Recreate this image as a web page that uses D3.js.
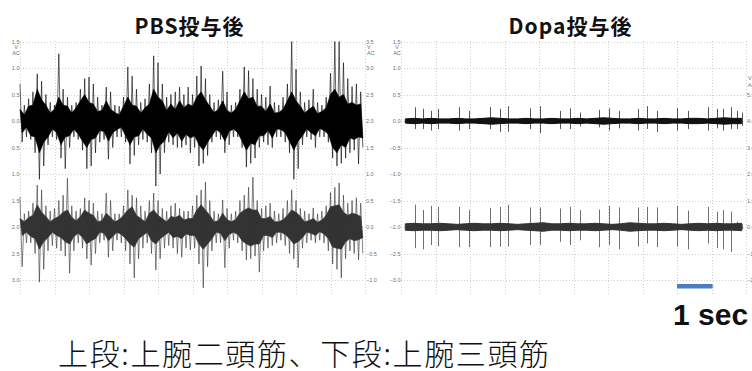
<!DOCTYPE html>
<html>
<head>
<meta charset="utf-8">
<script src="https://cdn.jsdelivr.net/npm/d3@7/dist/d3.min.js"></script>
<style>
  body { margin: 0; background: #fff; }
  svg { display: block; }
</style>
</head>
<body>
<svg id="chart" width="752" height="371"></svg>
<script>
// EMG traces, 10 s each, one value per 0.125 s bin (V).
// hi/lo = peak excursion above/below baseline, core = half-width of the dense band
var pbsBicepsHi = [0.7,0.3,0.42,0.55,0.89,0.75,0.5,0.35,0.3,1.27,
                   0.6,0.45,0.3,0.35,0.6,0.8,0.83,0.7,0.45,0.3,
                   0.64,0.55,0.3,0.28,0.45,1.02,0.85,0.6,0.35,0.42,
                   0.7,1.23,1.1,0.7,0.45,0.5,0.55,0.64,0.5,0.64,
                   0.5,0.85,1.04,0.8,0.5,0.35,0.4,0.94,0.55,0.3,
                   0.35,0.6,1.02,0.95,0.8,0.6,0.5,0.45,0.66,0.35,
                   0.3,0.45,0.7,1.5,0.98,0.55,0.35,0.4,0.6,0.35,
                   0.3,0.45,0.9,1.5,1.5,1.1,0.8,0.65,0.7,0.55];
var pbsBicepsLo = [0.4,0.3,0.35,0.6,1.1,0.85,0.45,0.3,0.35,0.7,
                   0.9,0.5,0.3,0.35,0.55,0.9,0.85,0.6,0.4,0.35,
                   0.72,0.5,0.3,0.3,0.4,0.81,0.65,0.45,0.35,0.4,
                   0.6,1.23,1.0,0.6,0.4,0.45,0.5,0.5,0.45,0.6,
                   0.5,0.85,0.8,0.65,0.4,0.3,0.35,0.6,0.45,0.3,
                   0.3,0.5,0.87,0.8,0.7,0.5,0.4,0.45,0.5,0.3,
                   0.3,0.4,0.6,1.1,0.9,0.45,0.3,0.35,0.5,0.3,
                   0.3,0.4,0.7,0.85,0.8,0.7,0.6,0.55,0.81,0.5];
var pbsBicepsCore = [0.22,0.12,0.28,0.3,0.6,0.4,0.3,0.15,0.22,0.45,
                     0.3,0.28,0.15,0.25,0.38,0.5,0.35,0.32,0.18,0.2,
                     0.38,0.22,0.16,0.12,0.28,0.45,0.3,0.28,0.15,0.25,
                     0.32,0.6,0.45,0.38,0.2,0.32,0.22,0.38,0.25,0.32,
                     0.28,0.45,0.55,0.4,0.28,0.16,0.22,0.38,0.2,0.15,
                     0.22,0.38,0.55,0.42,0.45,0.28,0.28,0.18,0.32,0.15,
                     0.16,0.22,0.38,0.55,0.38,0.28,0.15,0.22,0.28,0.14,
                     0.18,0.25,0.5,0.6,0.45,0.5,0.32,0.35,0.3,0.32];

var pbsTricepsHi = [0.57,0.25,0.3,0.45,0.79,0.7,0.4,0.3,0.35,0.5,
                    0.6,0.92,0.4,0.3,0.35,0.55,0.5,0.45,0.3,0.25,
                    0.64,0.5,0.25,0.25,0.4,0.7,0.6,0.55,0.4,0.3,
                    0.5,0.64,0.5,0.35,0.3,0.4,0.45,0.35,0.3,0.3,
                    0.4,0.6,0.7,0.85,0.5,0.3,0.25,0.51,0.35,0.25,
                    0.3,0.5,0.6,0.75,0.94,0.5,0.35,0.4,0.45,0.3,
                    0.25,0.35,0.5,0.7,0.5,0.35,0.3,0.25,0.36,0.25,
                    0.3,0.4,0.65,0.75,0.83,0.6,0.45,0.5,0.55,0.45];
var pbsTricepsLo = [0.75,0.3,0.3,0.5,1.04,0.8,0.45,0.35,0.4,0.45,
                    0.55,0.87,0.45,0.3,0.4,0.6,0.72,0.5,0.3,0.25,
                    0.57,0.45,0.25,0.3,0.45,0.7,0.96,0.6,0.4,0.3,
                    0.5,0.81,0.6,0.4,0.35,0.4,0.5,0.57,0.4,0.43,
                    0.4,0.7,1.15,0.75,0.45,0.3,0.3,0.77,0.4,0.25,
                    0.3,0.45,0.62,0.6,0.55,0.85,0.45,0.4,0.35,0.3,
                    0.25,0.35,0.5,0.6,0.77,0.4,0.3,0.25,0.3,0.25,
                    0.3,0.45,0.7,0.8,0.96,0.6,0.45,0.5,0.62,0.5];
var pbsTricepsCore = [0.16,0.1,0.18,0.22,0.42,0.28,0.2,0.1,0.16,0.2,
                      0.28,0.32,0.18,0.12,0.2,0.32,0.26,0.22,0.1,0.12,
                      0.26,0.18,0.1,0.14,0.22,0.32,0.38,0.22,0.16,0.1,
                      0.26,0.32,0.22,0.16,0.1,0.2,0.18,0.22,0.13,0.16,
                      0.16,0.32,0.42,0.32,0.22,0.1,0.12,0.26,0.14,0.1,
                      0.14,0.26,0.32,0.36,0.32,0.32,0.16,0.16,0.2,0.1,
                      0.1,0.14,0.22,0.32,0.28,0.2,0.1,0.12,0.16,0.09,
                      0.13,0.22,0.38,0.4,0.42,0.28,0.22,0.26,0.24,0.2];

// Dopa: isolated spikes (time in s) on a thin noise band (band per 0.25 s)
var dopaSpikeT = [0.41,0.65,0.87,1.08,1.69,1.97,2.58,2.87,3.11,3.74,4.03,4.61,4.90,5.19,
                  5.75,6.04,6.33,6.88,7.14,7.43,8.01,8.33,8.89,9.15,9.34,9.56,9.73,9.88];
var dopaBicepsUp = [0.26,0.23,0.19,0.23,0.26,0.19,0.26,0.23,0.28,0.24,0.28,0.19,0.24,0.16,
                    0.21,0.24,0.19,0.23,0.28,0.19,0.24,0.19,0.26,0.23,0.23,0.26,0.19,0.16];
var dopaBicepsDown = [0.15,0.15,0.18,0.15,0.18,0.15,0.15,0.21,0.2,0.15,0.23,0.15,0.15,0.1,
                      0.12,0.18,0.14,0.18,0.15,0.21,0.18,0.15,0.18,0.14,0.18,0.15,0.15,0.09];
var dopaTricepsUp = [0.42,0.32,0.4,0.38,0.38,0.32,0.36,0.38,0.42,0.37,0.37,0.35,0.38,0.32,
                     0.33,0.4,0.37,0.37,0.38,0.37,0.4,0.31,0.38,0.29,0.32,0.29,0.1,0.05];
var dopaTricepsDown = [0.4,0.42,0.34,0.36,0.38,0.38,0.38,0.37,0.37,0.34,0.34,0.28,0.34,0.25,
                       0.38,0.34,0.42,0.37,0.31,0.38,0.37,0.42,0.31,0.4,0.42,0.47,0.06,0.05];
var dopaBicepsCore = [0.04,0.05,0.04,0.05,0.04,0.04,0.05,0.04,0.04,0.05,
                      0.06,0.05,0.04,0.04,0.05,0.04,0.04,0.05,0.04,0.04,
                      0.05,0.04,0.05,0.06,0.05,0.04,0.04,0.05,0.04,0.04,
                      0.05,0.04,0.04,0.05,0.05,0.04,0.05,0.06,0.05,0.05];
var dopaTricepsCore = [0.06,0.07,0.06,0.06,0.07,0.06,0.05,0.06,0.07,0.06,
                       0.06,0.07,0.06,0.05,0.06,0.07,0.08,0.06,0.06,0.07,
                       0.06,0.06,0.07,0.06,0.05,0.06,0.08,0.07,0.06,0.06,
                       0.07,0.06,0.05,0.06,0.07,0.06,0.07,0.06,0.06,0.07];

var leftTicks = [1.5, 1.0, 0.5, 0.0, -0.5, -1.0, -1.5, -2.0, -2.5, -3.0];
var pbsRightTicks = [3.5, 3.0, 2.5, 2.0, 1.5, 1.0, 0.5, 0.0, -0.5, -1.0];
var dopaRightTicks = [5, 4, 3, 2, 1, 0, -1, -2];
var gridSeconds = [0, 1, 2, 3, 4, 5, 6, 7, 8, 9, 10];
var titles = ["PBS投与後", "Dopa投与後"];
var scaleBar = [8, 9]; // 1 sec
var caption = "上段:上腕二頭筋、下段:上腕三頭筋";

var svg = d3.select("#chart");
var tickFont = "Liberation Sans, Arial, sans-serif";

var y = d3.scaleLinear().domain([1.5, -3.0]).range([41.5, 280]);

function drawPanel(p) {
  var x = d3.scaleLinear().domain([0, 10]).range([p.left, p.left + 345]);
  var g = svg.append("g");

  g.selectAll(".hgrid")
    .data(leftTicks)
    .enter().append("line")
      .attr("x1", x(0)).attr("x2", x(10))
      .attr("y1", function(d) { return Math.round(y(d)) + 0.5; })
      .attr("y2", function(d) { return Math.round(y(d)) + 0.5; })
      .attr("stroke", "#cfcfcf")
      .attr("stroke-dasharray", "1,2");

  g.selectAll(".vgrid")
    .data(gridSeconds)
    .enter().append("line")
      .attr("x1", function(d) { return Math.round(x(d)) + 0.5; })
      .attr("x2", function(d) { return Math.round(x(d)) + 0.5; })
      .attr("y1", 41).attr("y2", 296)
      .attr("stroke", "#cfcfcf")
      .attr("stroke-dasharray", "1,2");

  // left axis labels
  var la = g.append("g")
      .attr("transform", "translate(" + (p.left - 0.5) + ",0)")
      .call(d3.axisLeft(y).tickValues(leftTicks).tickSize(0).tickPadding(0).tickFormat(p.leftFormat));
  la.select(".domain").remove();
  la.attr("font-size", 5.5).attr("font-family", tickFont).attr("color", "#707070");

  // right axis labels
  var ra = g.append("g")
      .attr("transform", "translate(" + (p.left + 346) + ",0)")
      .call(d3.axisRight(p.rightScale).tickValues(p.rightTicks).tickSize(0).tickPadding(0).tickFormat(d3.format(".1f")));
  ra.select(".domain").remove();
  ra.attr("font-size", 5.5).attr("font-family", tickFont).attr("color", "#707070");

  var units = [
    {x: p.left - 4, y: p.leftUnitsY, a: "middle"},
    {x: p.left + 347, y: p.rightUnitsY, a: "start"}
  ];
  units.forEach(function(u) {
    g.append("text").attr("x", u.x).attr("y", u.y).attr("text-anchor", u.a)
      .attr("font-size", 5.5).attr("font-family", tickFont).attr("fill", "#707070").text("V");
    g.append("text").attr("x", u.x).attr("y", u.y + 6.5).attr("text-anchor", u.a)
      .attr("font-size", 5.5).attr("font-family", tickFont).attr("fill", "#707070").text("AC");
  });

  g.append("text")
      .attr("x", (x(0) + x(10)) / 2 - 3)
      .attr("y", 34)
      .attr("text-anchor", "middle")
      .attr("font-family", "Noto Sans CJK JP, sans-serif")
      .attr("font-weight", "bold")
      .attr("font-size", 21)
      .attr("letter-spacing", 1)
      .attr("fill", "#111")
      .text(p.title);

  p.draw(g, x);
  return x;
}

function drawEmg(g, x, base, hi, lo, core, color) {
  var dt = 10 / hi.length;
  // dense band: upper edge on bin start, lower edge on half bin
  var band = d3.area()
      .x1(function(d, i) { return x(i * dt); })
      .x0(function(d, i) { return x((i + 0.5) * dt); })
      .y0(function(d) { return y(base - d); })
      .y1(function(d) { return y(base + d); });
  g.append("path")
      .datum(core)
      .attr("d", band)
      .attr("fill", color)
      .attr("stroke", color)
      .attr("stroke-width", 0.6);

  // spikes: up at bin start, down at half bin
  var pts = [];
  hi.forEach(function(h, i) {
    pts.push([x(i * dt), y(base + h)]);
    pts.push([x((i + 0.5) * dt), y(base - lo[i])]);
  });
  g.append("path")
      .attr("d", d3.line()(pts))
      .attr("fill", "none")
      .attr("stroke", color)
      .attr("stroke-width", 1)
      .attr("opacity", 0.6);
}

function drawSpikes(g, x, base, up, down, core, color) {
  var dc = 10 / core.length;
  var band = d3.area()
      .x(function(d, i) { return x((i + 0.5) * dc); })
      .y0(function(d) { return y(base - d); })
      .y1(function(d) { return y(base + d); });
  g.append("path")
      .datum(core)
      .attr("d", band)
      .attr("fill", color)
      .attr("stroke", color)
      .attr("stroke-width", 1);

  g.selectAll(null)
    .data(dopaSpikeT)
    .enter().append("line")
      .attr("x1", function(d) { return Math.round(x(d)) + 0.5; })
      .attr("x2", function(d) { return Math.round(x(d)) + 0.5; })
      .attr("y1", function(d, i) { return y(base + up[i]); })
      .attr("y2", function(d, i) { return y(base - down[i]); })
      .attr("stroke", color)
      .attr("stroke-width", 1)
      .attr("opacity", 0.7);
}

drawPanel({
  left: 20,
  title: titles[0],
  leftFormat: function(d) { return d3.format(".1f")(Math.abs(d)); },
  rightScale: d3.scaleLinear().domain([3.5, -1.0]).range(y.range()),
  rightTicks: pbsRightTicks,
  leftUnitsY: 48.5,
  rightUnitsY: 48.5,
  draw: function(g, x) {
    drawEmg(g, x, 0, pbsBicepsHi, pbsBicepsLo, pbsBicepsCore, "#000");
    drawEmg(g, x, -2, pbsTricepsHi, pbsTricepsLo, pbsTricepsCore, "#333");
  }
});

var xd = drawPanel({
  left: 401,
  title: titles[1],
  leftFormat: d3.format(".1f"),
  rightScale: d3.scaleLinear().domain([7, -2]).range(y.range()),
  rightTicks: dopaRightTicks,
  leftUnitsY: 48.5,
  rightUnitsY: 80,
  draw: function(g, x) {
    drawSpikes(g, x, 0, dopaBicepsUp, dopaBicepsDown, dopaBicepsCore, "#111");
    drawSpikes(g, x, -2, dopaTricepsUp, dopaTricepsDown, dopaTricepsCore, "#333");
  }
});

// 1 sec scale bar
svg.append("rect")
    .attr("x", xd(scaleBar[0]) + 1)
    .attr("y", 285)
    .attr("width", xd(scaleBar[1]) - xd(scaleBar[0]) + 1)
    .attr("height", 3)
    .attr("fill", "#c8c8c8");
svg.append("rect")
    .attr("x", xd(scaleBar[0]))
    .attr("y", 284)
    .attr("width", xd(scaleBar[1]) - xd(scaleBar[0]) + 1)
    .attr("height", 4.5)
    .attr("fill", "#4a7dc2");

svg.append("text")
    .attr("x", 673)
    .attr("y", 325)
    .attr("font-family", "Liberation Sans, Arial, sans-serif")
    .attr("font-weight", "bold")
    .attr("font-size", 30)
    .attr("fill", "#111")
    .text("1 sec");

svg.append("text")
    .attr("x", 58)
    .attr("y", 365)
    .attr("font-family", "Noto Sans CJK JP, sans-serif")
    .attr("font-weight", 300)
    .attr("font-size", 30)
    .attr("textLength", 491)
    .attr("lengthAdjust", "spacing")
    .attr("fill", "#111")
    .text(caption);
</script>
</body>
</html>
